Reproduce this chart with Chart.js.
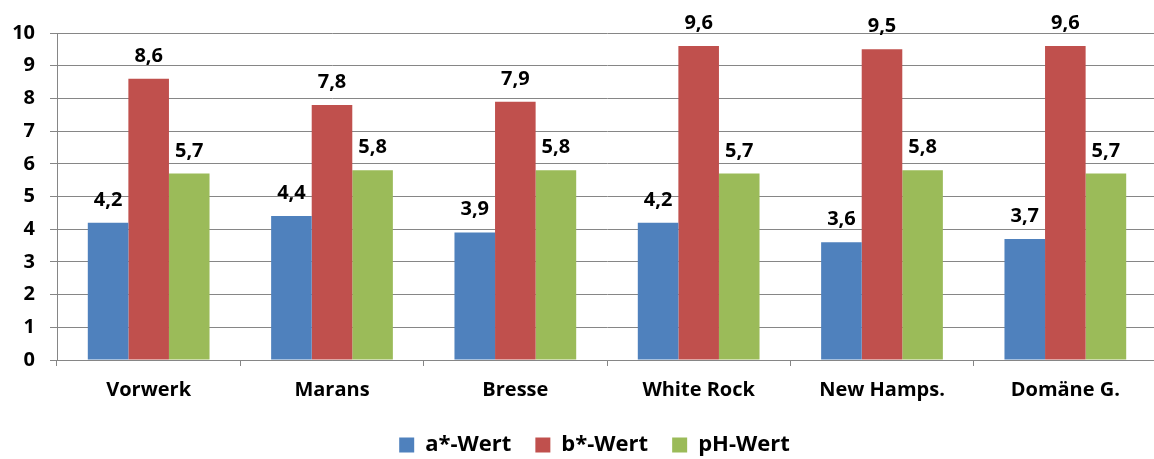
<!DOCTYPE html>
<html>
<head>
<meta charset="utf-8">
<script src="https://cdn.jsdelivr.net/npm/chart.js@4/dist/chart.umd.min.js"></script>
<style>
  html, body { margin: 0; padding: 0; background: #fff; overflow: hidden; }
  /* plot area runs a little past the right edge in the original, so the canvas is wider than the view */
  #view { width: 1154px; height: 459px; overflow: hidden; position: relative; }
  #wrap { width: 1190px; height: 466px; position: absolute; left: 0; top: 0; }
</style>
</head>
<body>
<div id="view"><div id="wrap"><canvas id="chart"></canvas></div></div>
<script>
// categories and series
const breeds  = ['Vorwerk', 'Marans', 'Bresse', 'White Rock', 'New Hamps.', 'Domäne G.'];
const aWert   = [4.2, 4.4, 3.9, 4.2, 3.6, 3.7];
const bWert   = [8.6, 7.8, 7.9, 9.6, 9.5, 9.6];
const phWert  = [5.7, 5.8, 5.8, 5.7, 5.8, 5.7];
const yTicks  = [0, 1, 2, 3, 4, 5, 6, 7, 8, 9, 10];

const FONT = '"Open Sans", Lato, sans-serif';
const GRID = '#868686';

/* value labels above the bars, German decimal comma */
const valueLabels = {
  id: 'valueLabels',
  afterLayout(chart) {
    // legend sits centred under the plot area rather than the canvas
    chart.legend.left += 16;
    chart.legend.right += 16;
  },
  afterDatasetsDraw(chart) {
    const ctx = chart.ctx;
    ctx.save();
    ctx.font = `bold 20px ${FONT}`;
    ctx.fillStyle = '#000';
    ctx.textAlign = 'center';
    ctx.textBaseline = 'alphabetic';
    chart.data.datasets.forEach((ds, i) => {
      chart.getDatasetMeta(i).data.forEach((bar, j) => {
        const txt = ds.data[j].toFixed(1).replace('.', ',');
        ctx.fillText(txt, bar.x, bar.y - 17);
      });
    });
    ctx.restore();
  },
};

new Chart(document.getElementById('chart'), {
  type: 'bar',
  data: {
    labels: breeds,
    datasets: [
      { label: 'a*-Wert', data: aWert,  backgroundColor: '#4F81BD' },
      { label: 'b*-Wert', data: bWert,  backgroundColor: '#C0504D' },
      { label: 'pH-Wert', data: phWert, backgroundColor: '#9BBB59' },
    ],
  },
  options: {
    responsive: true,
    maintainAspectRatio: false,
    animation: false,
    categoryPercentage: 0.664,
    barPercentage: 1.0,
    layout: { padding: { top: 33, right: 33, left: 0, bottom: 0 } },
    plugins: {
      tooltip: { enabled: false },
      legend: {
        position: 'bottom',
        labels: {
          color: '#000',
          font: { family: FONT, size: 22, weight: 'bold' },
          boxWidth: 15,
          boxHeight: 15,
          padding: 24,
        },
      },
    },
    scales: {
      x: {
        grid: { display: true, drawOnChartArea: false, color: GRID, tickLength: 6, offset: true },
        border: { color: GRID, width: 1 },
        ticks: { color: '#000', font: { family: FONT, size: 20, weight: 'bold' }, padding: 12 },
        afterFit(scale) { scale.height = 50; },
      },
      y: {
        min: 0,
        max: 10,
        afterBuildTicks(scale) { scale.ticks = yTicks.map(v => ({ value: v })); },
        grid: { color: GRID, tickLength: 7 },
        border: { color: GRID, width: 1 },
        ticks: {
          color: '#000',
          font: { family: FONT, size: 20, weight: 'bold' },
          padding: 15,
        },
        afterFit(scale) { scale.width = 57; },
      },
    },
  },
  plugins: [valueLabels],
});
</script>
</body>
</html>
